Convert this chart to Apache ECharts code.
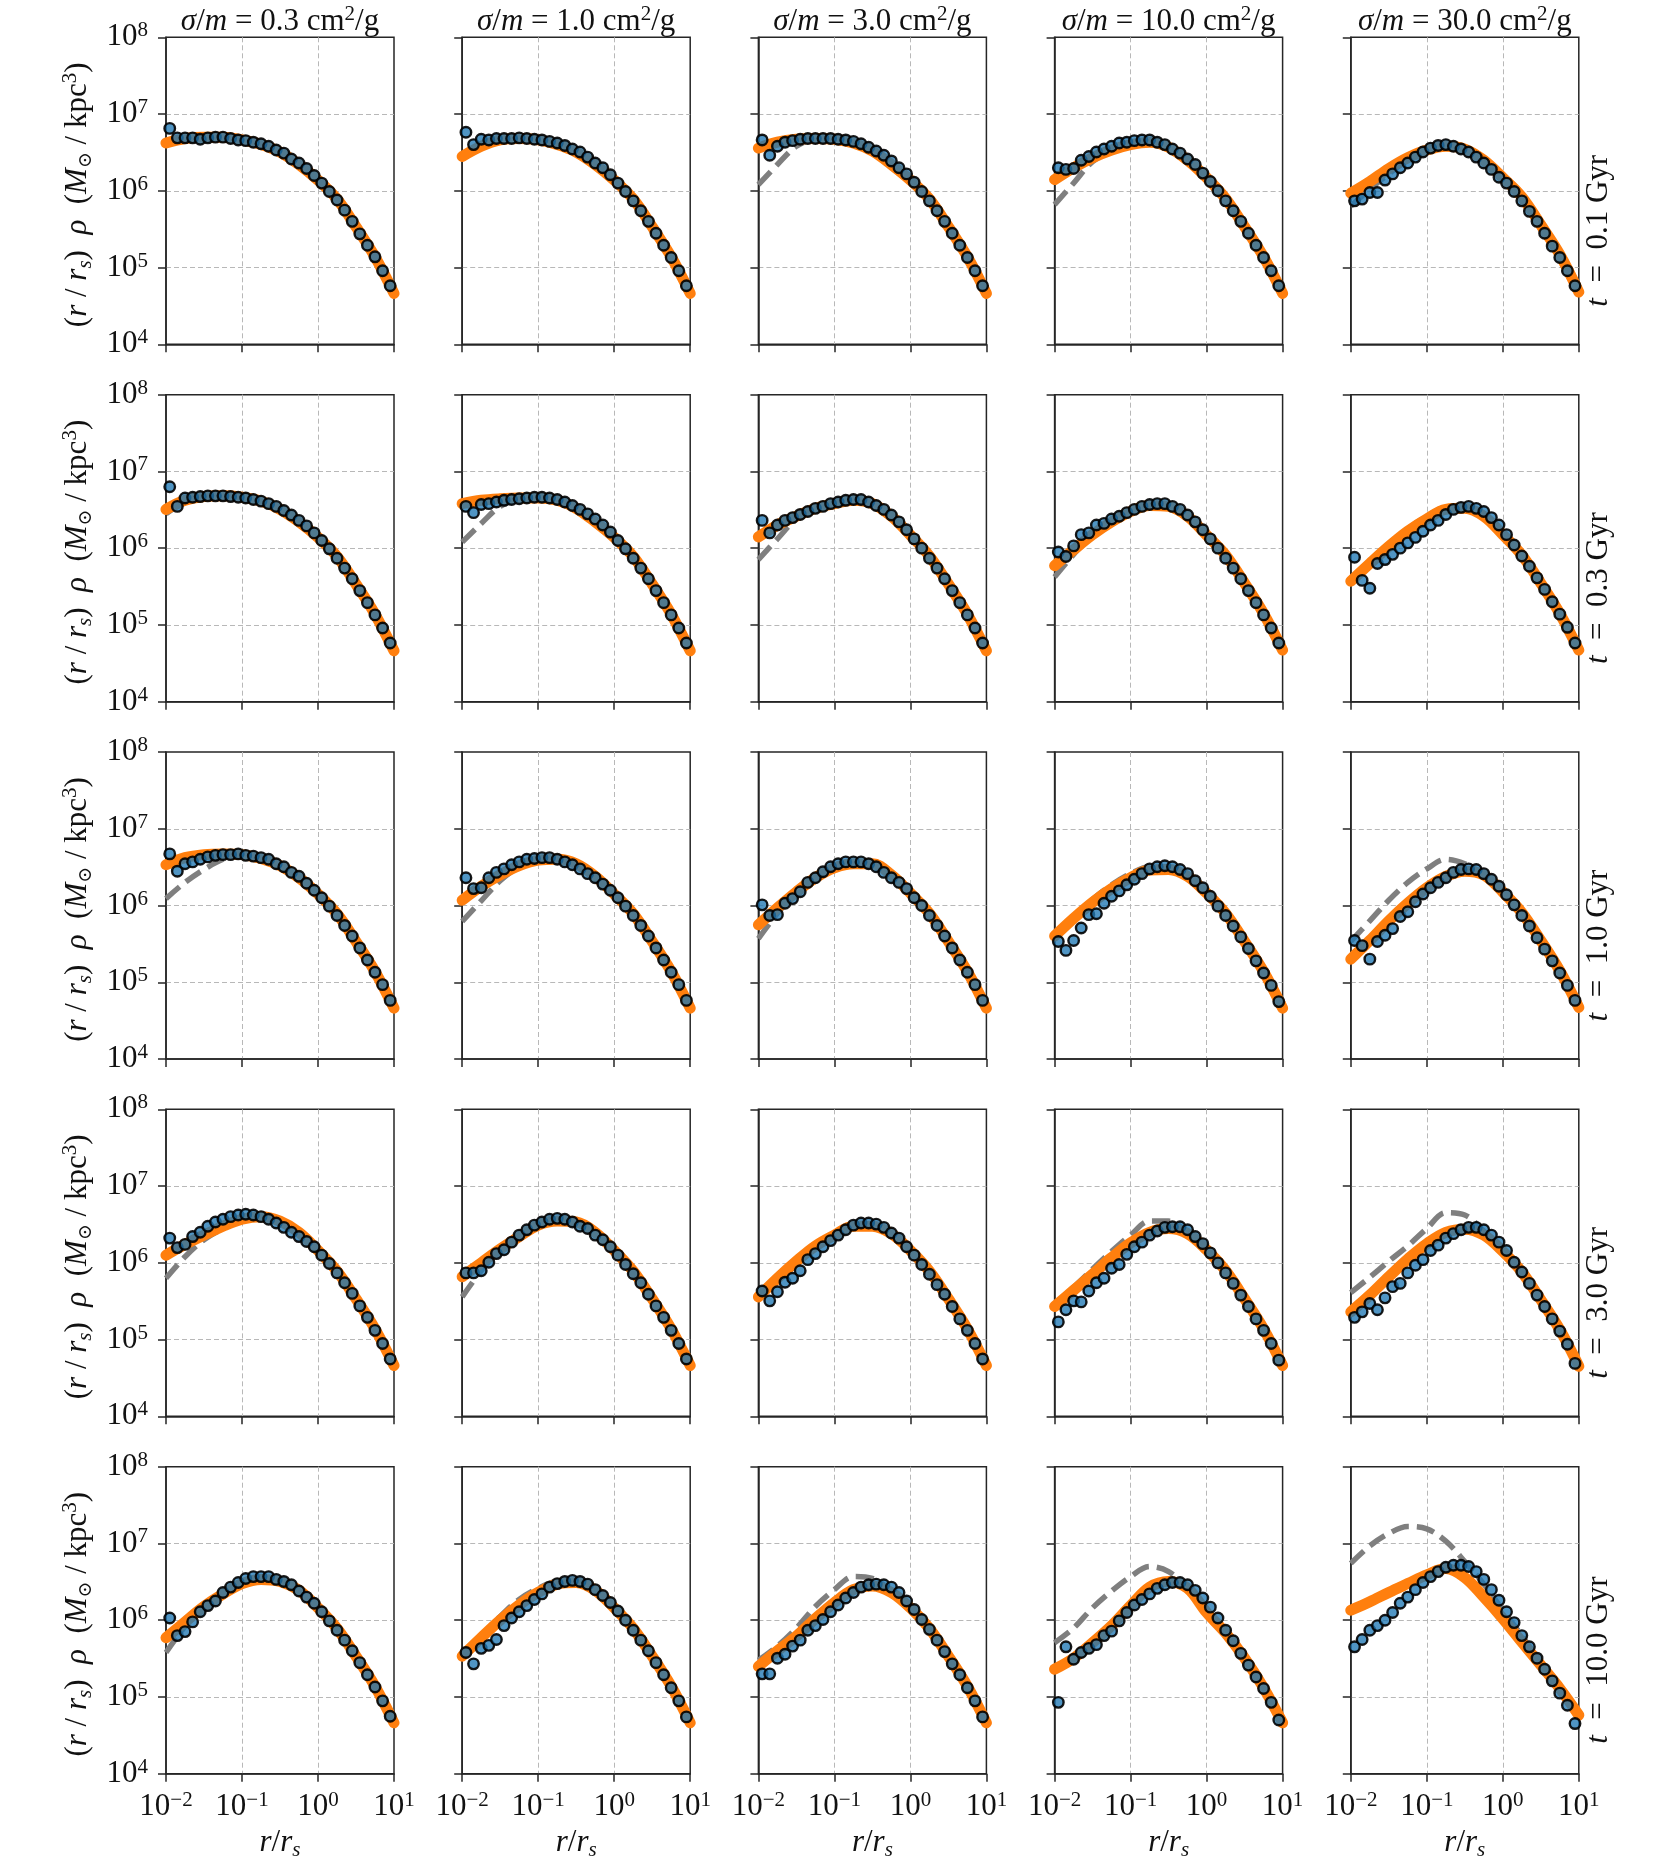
<!DOCTYPE html>
<html><head><meta charset="utf-8">
<script src="https://cdn.jsdelivr.net/npm/echarts@6/dist/echarts.min.js"></script>
<style>html,body{margin:0;padding:0;background:#fff}#c{width:1661px;height:1868px}</style>
</head><body><div id="c"></div>
<script>
// ---------------- data ----------------
const crossSections = ['0.3', '1.0', '3.0', '10.0', '30.0'];   // sigma/m in cm^2/g (columns)
const times = ['0.1', '0.3', '1.0', '3.0', '10.0'];             // t in Gyr (rows)
const xTicks = [0.01, 0.1, 1, 10];
const yTicks = [1e4, 1e5, 1e6, 1e7, 1e8];

// radii of the simulation points (r/r_s)
const rPoints = [0.0112, 0.0141, 0.0178, 0.0224, 0.0282, 0.0355, 0.0447, 0.0562, 0.0708, 0.0891,
  0.112, 0.141, 0.178, 0.224, 0.282, 0.355, 0.447, 0.562, 0.708, 0.891,
  1.12, 1.41, 1.78, 2.24, 2.82, 3.55, 4.47, 5.62, 7.08, 8.91];
// radii of the model curves (r/r_s)
const rCurve = [0.01, 0.0178, 0.0316, 0.0562, 0.1, 0.178, 0.316, 0.562, 1, 1.78, 3.16, 5.62, 10];

// simulation points, (r/r_s) rho, one array per sigma/m column
const pointsT01 = [
  [6.5e6,4.9e6,4.9e6,4.9e6,4.7e6, 4.9e6,5.0e6,5.0e6,4.8e6,4.6e6, 4.5e6,4.3e6,4.1e6,3.8e6,3.4e6, 3.1e6,2.6e6,2.3e6,1.95e6,1.58e6, 1.26e6,9.8e5,7.6e5,5.6e5,4.0e5, 2.75e5,1.95e5,1.38e5,9.1e4,5.8e4],
  [5.8e6,4.0e6,4.7e6,4.6e6,4.8e6, 4.8e6,4.8e6,4.9e6,4.8e6,4.7e6, 4.6e6,4.4e6,4.2e6,3.9e6,3.5e6, 3.2e6,2.75e6,2.3e6,2.0e6,1.62e6, 1.26e6,9.8e5,7.4e5,5.5e5,4.0e5, 2.8e5,1.95e5,1.35e5,9.1e4,5.8e4],
  [4.6e6,2.9e6,3.8e6,4.3e6,4.5e6, 4.7e6,4.8e6,4.8e6,4.8e6,4.8e6, 4.7e6,4.6e6,4.4e6,4.1e6,3.7e6, 3.3e6,2.9e6,2.45e6,2.0e6,1.66e6, 1.29e6,9.8e5,7.4e5,5.5e5,4.0e5, 2.8e5,1.95e5,1.35e5,9.1e4,5.8e4],
  [2.0e6,1.9e6,1.95e6,2.5e6,2.8e6, 3.2e6,3.5e6,3.8e6,4.2e6,4.3e6, 4.5e6,4.6e6,4.6e6,4.3e6,4.0e6, 3.5e6,3.1e6,2.6e6,2.2e6,1.7e6, 1.32e6,1.0e6,7.4e5,5.5e5,4.0e5, 2.8e5,1.95e5,1.35e5,9.1e4,5.8e4],
  [7.4e5,7.8e5,9.5e5,9.5e5,1.38e6, 1.66e6,2.0e6,2.3e6,2.75e6,3.2e6, 3.6e6,3.9e6,4.0e6,3.8e6,3.5e6, 3.2e6,2.75e6,2.3e6,1.9e6,1.5e6, 1.26e6,9.8e5,7.4e5,5.4e5,4.0e5, 2.8e5,1.9e5,1.35e5,9.1e4,5.8e4]
];
const pointsT03 = [
  [6.3e6,3.5e6,4.5e6,4.6e6,4.7e6, 4.8e6,4.8e6,4.8e6,4.7e6,4.6e6, 4.5e6,4.3e6,4.1e6,3.8e6,3.5e6, 3.1e6,2.7e6,2.3e6,1.95e6,1.58e6, 1.26e6,9.8e5,7.4e5,5.5e5,4.0e5, 2.8e5,1.95e5,1.35e5,9.1e4,5.8e4],
  [3.5e6,2.9e6,3.7e6,3.8e6,4.0e6, 4.2e6,4.3e6,4.4e6,4.5e6,4.6e6, 4.6e6,4.5e6,4.3e6,4.0e6,3.6e6, 3.2e6,2.8e6,2.4e6,2.0e6,1.62e6, 1.26e6,9.8e5,7.4e5,5.5e5,4.0e5, 2.8e5,1.95e5,1.35e5,9.1e4,5.8e4],
  [2.3e6,1.58e6,2.0e6,2.3e6,2.5e6, 2.75e6,3.0e6,3.3e6,3.5e6,3.8e6, 4.0e6,4.2e6,4.3e6,4.3e6,4.0e6, 3.6e6,3.2e6,2.7e6,2.2e6,1.74e6, 1.32e6,1.0e6,7.4e5,5.5e5,4.0e5, 2.8e5,1.95e5,1.35e5,9.1e4,5.8e4],
  [8.9e5,7.8e5,1.07e6,1.5e6,1.58e6, 2.0e6,2.1e6,2.4e6,2.6e6,2.9e6, 3.2e6,3.5e6,3.7e6,3.8e6,3.8e6, 3.5e6,3.2e6,2.7e6,2.2e6,1.74e6, 1.32e6,1.0e6,7.4e5,5.5e5,4.0e5, 2.8e5,1.95e5,1.35e5,9.1e4,5.8e4],
  [7.6e5,3.8e5,3.0e5,6.3e5,7.1e5, 8.3e5,1.0e6,1.17e6,1.38e6,1.66e6, 2.0e6,2.3e6,2.75e6,3.2e6,3.4e6, 3.5e6,3.3e6,3.0e6,2.5e6,2.0e6, 1.5e6,1.1e6,7.9e5,5.8e5,4.1e5, 2.9e5,2.0e5,1.38e5,9.3e4,5.8e4]
];
const pointsT1 = [
  [4.7e6,2.8e6,3.5e6,3.7e6,4.0e6, 4.3e6,4.5e6,4.6e6,4.6e6,4.7e6, 4.5e6,4.4e6,4.2e6,4.0e6,3.5e6, 3.2e6,2.7e6,2.4e6,1.95e6,1.58e6, 1.26e6,9.8e5,7.4e5,5.5e5,4.0e5, 2.8e5,1.95e5,1.35e5,9.3e4,5.8e4],
  [2.3e6,1.66e6,1.7e6,2.3e6,2.7e6, 3.0e6,3.4e6,3.7e6,4.0e6,4.1e6, 4.2e6,4.2e6,4.0e6,3.7e6,3.4e6, 3.0e6,2.6e6,2.3e6,1.9e6,1.58e6, 1.26e6,9.8e5,7.4e5,5.5e5,4.0e5, 2.8e5,1.95e5,1.35e5,9.3e4,5.8e4],
  [1.02e6,7.4e5,7.6e5,1.07e6,1.23e6, 1.51e6,2.0e6,2.3e6,2.75e6,3.2e6, 3.5e6,3.7e6,3.7e6,3.7e6,3.5e6, 3.2e6,2.7e6,2.3e6,2.0e6,1.66e6, 1.26e6,1.0e6,7.4e5,5.5e5,4.0e5, 2.8e5,1.95e5,1.35e5,9.3e4,5.8e4],
  [3.4e5,2.6e5,3.5e5,5.1e5,7.6e5, 7.8e5,1.07e6,1.32e6,1.55e6,1.86e6, 2.2e6,2.6e6,3.0e6,3.2e6,3.3e6, 3.2e6,2.95e6,2.6e6,2.1e6,1.7e6, 1.32e6,9.8e5,7.4e5,5.4e5,3.9e5, 2.75e5,1.9e5,1.32e5,9.1e4,5.6e4],
  [3.5e5,3.0e5,2.0e5,3.4e5,4.1e5, 5.0e5,7.2e5,8.3e5,1.12e6,1.41e6, 1.7e6,2.0e6,2.3e6,2.7e6,2.95e6, 3.0e6,2.95e6,2.6e6,2.2e6,1.78e6, 1.38e6,1.02e6,7.4e5,5.4e5,3.8e5, 2.7e5,1.9e5,1.32e5,9.1e4,5.8e4]
];
const pointsT3 = [
  [2.1e6,1.58e6,1.74e6,2.2e6,2.5e6, 3.0e6,3.4e6,3.7e6,4.0e6,4.2e6, 4.3e6,4.2e6,4.0e6,3.7e6,3.3e6, 2.9e6,2.5e6,2.2e6,1.9e6,1.62e6, 1.26e6,9.8e5,7.4e5,5.5e5,4.0e5, 2.75e5,1.95e5,1.32e5,8.9e4,5.6e4],
  [7.4e5,7.4e5,7.9e5,1.02e6,1.32e6, 1.48e6,1.86e6,2.3e6,2.7e6,3.1e6, 3.4e6,3.7e6,3.8e6,3.7e6,3.4e6, 3.0e6,2.8e6,2.3e6,2.0e6,1.62e6, 1.26e6,9.5e5,7.2e5,5.5e5,3.9e5, 2.75e5,1.95e5,1.32e5,8.9e4,5.6e4],
  [4.3e5,3.2e5,4.2e5,5.6e5,6.3e5, 7.9e5,1.1e6,1.32e6,1.62e6,1.95e6, 2.3e6,2.7e6,3.1e6,3.3e6,3.3e6, 3.2e6,2.9e6,2.45e6,2.1e6,1.62e6, 1.26e6,9.5e5,7.1e5,5.2e5,3.9e5, 2.7e5,1.86e5,1.32e5,8.9e4,5.6e4],
  [1.7e5,2.45e5,3.2e5,3.1e5,4.3e5, 5.5e5,6.3e5,8.5e5,9.5e5,1.29e6, 1.62e6,1.86e6,2.3e6,2.6e6,2.9e6, 2.95e6,2.95e6,2.7e6,2.2e6,1.78e6, 1.35e6,1.0e6,7.4e5,5.4e5,3.8e5, 2.7e5,1.86e5,1.32e5,8.9e4,5.4e4],
  [1.95e5,2.3e5,2.95e5,2.45e5,3.5e5, 4.9e5,5.4e5,7.4e5,9.3e5,1.1e6, 1.45e6,1.7e6,2.1e6,2.4e6,2.7e6, 2.9e6,2.9e6,2.7e6,2.3e6,1.86e6, 1.45e6,1.02e6,7.6e5,5.4e5,3.8e5, 2.7e5,1.86e5,1.29e5,8.7e4,4.9e4]
];
const pointsT10 = [
  [1.07e6,6.3e5,7.1e5,9.5e5,1.29e6, 1.55e6,1.78e6,2.3e6,2.7e6,3.1e6, 3.5e6,3.7e6,3.7e6,3.7e6,3.4e6, 3.2e6,2.9e6,2.4e6,2.0e6,1.66e6, 1.29e6,9.8e5,7.4e5,5.5e5,4.0e5, 2.8e5,1.95e5,1.35e5,8.9e4,5.6e4],
  [3.8e5,2.7e5,4.3e5,4.7e5,5.6e5, 8.5e5,1.07e6,1.29e6,1.55e6,1.86e6, 2.2e6,2.7e6,3.0e6,3.2e6,3.3e6, 3.2e6,2.95e6,2.5e6,2.1e6,1.7e6, 1.32e6,1.0e6,7.4e5,5.5e5,4.0e5, 2.8e5,1.95e5,1.32e5,8.9e4,5.5e4],
  [2.0e5,2.0e5,3.2e5,3.6e5,4.6e5, 5.5e5,7.4e5,8.5e5,1.02e6,1.29e6, 1.58e6,1.95e6,2.3e6,2.7e6,2.9e6, 2.95e6,2.9e6,2.7e6,2.3e6,1.78e6, 1.38e6,1.02e6,7.6e5,5.5e5,3.9e5, 2.7e5,1.95e5,1.32e5,8.9e4,5.5e4],
  [8.5e4,4.5e5,3.1e5,3.8e5,4.3e5, 4.8e5,6.3e5,7.2e5,9.8e5,1.26e6, 1.58e6,1.86e6,2.2e6,2.6e6,2.9e6, 3.1e6,3.1e6,2.9e6,2.45e6,1.95e6, 1.48e6,1.07e6,7.4e5,5.4e5,3.7e5, 2.6e5,1.82e5,1.29e5,8.5e4,5.0e4],
  [4.5e5,5.6e5,7.4e5,8.5e5,1.0e6, 1.26e6,1.66e6,2.0e6,2.5e6,3.1e6, 3.7e6,4.3e6,4.9e6,5.2e6,5.2e6, 5.0e6,4.3e6,3.4e6,2.5e6,1.82e6, 1.29e6,9.3e5,6.3e5,4.5e5,3.2e5, 2.3e5,1.62e5,1.12e5,7.8e4,4.5e4]
];

// orange (thick solid) model curve
const orangeT01 = [
  [4.2e6,4.8e6,5.0e6,5.0e6,4.6e6,4.0e6,3.2e6,2.2e6,1.38e6,7.8e5,3.4e5,1.38e5,4.6e4],
  [2.8e6,3.8e6,4.6e6,4.8e6,4.6e6,4.0e6,3.2e6,2.2e6,1.38e6,7.8e5,3.4e5,1.38e5,4.6e4],
  [3.6e6,4.3e6,4.7e6,4.8e6,4.7e6,4.2e6,3.3e6,2.2e6,1.38e6,7.8e5,3.4e5,1.38e5,4.6e4],
  [1.4e6,2.0e6,2.7e6,3.4e6,4.0e6,4.3e6,3.7e6,2.5e6,1.48e6,7.9e5,3.4e5,1.38e5,4.6e4],
  [9.3e5,1.32e6,1.95e6,2.7e6,3.4e6,3.8e6,3.5e6,2.5e6,1.48e6,8.3e5,3.6e5,1.48e5,4.8e4]
];
const orangeT03 = [
  [3.2e6,4.2e6,4.7e6,4.8e6,4.6e6,4.1e6,3.2e6,2.2e6,1.38e6,7.8e5,3.4e5,1.38e5,4.6e4],
  [3.8e6,4.2e6,4.4e6,4.5e6,4.5e6,4.2e6,3.3e6,2.2e6,1.38e6,7.8e5,3.4e5,1.38e5,4.6e4],
  [1.4e6,2.0e6,2.6e6,3.3e6,3.8e6,4.2e6,3.8e6,2.6e6,1.48e6,7.9e5,3.4e5,1.38e5,4.6e4],
  [5.9e5,9.5e5,1.5e6,2.2e6,3.0e6,3.6e6,3.5e6,2.6e6,1.48e6,8.1e5,3.5e5,1.41e5,4.7e4],
  [3.7e5,6.3e5,1.05e6,1.66e6,2.4e6,3.2e6,3.3e6,2.6e6,1.5e6,8.1e5,3.5e5,1.41e5,4.7e4]
];
const orangeT1 = [
  [3.4e6,4.2e6,4.6e6,4.7e6,4.6e6,4.1e6,3.3e6,2.3e6,1.41e6,7.8e5,3.4e5,1.38e5,4.6e4],
  [1.17e6,1.78e6,2.5e6,3.3e6,3.9e6,4.0e6,3.5e6,2.4e6,1.41e6,7.8e5,3.4e5,1.38e5,4.6e4],
  [5.6e5,9.3e5,1.5e6,2.3e6,3.1e6,3.5e6,3.5e6,2.5e6,1.45e6,7.9e5,3.4e5,1.38e5,4.6e4],
  [4.0e5,6.8e5,1.1e6,1.66e6,2.3e6,2.9e6,2.95e6,2.4e6,1.45e6,7.9e5,3.4e5,1.38e5,4.6e4],
  [2.0e5,3.5e5,6.3e5,1.07e6,1.7e6,2.4e6,2.8e6,2.5e6,1.5e6,8.1e5,3.5e5,1.41e5,4.7e4]
];
const orangeT3 = [
  [1.26e6,1.74e6,2.3e6,3.0e6,3.7e6,4.0e6,3.5e6,2.5e6,1.45e6,7.8e5,3.4e5,1.38e5,4.6e4],
  [6.6e5,1.0e6,1.51e6,2.2e6,3.1e6,3.5e6,3.4e6,2.5e6,1.45e6,7.8e5,3.4e5,1.38e5,4.6e4],
  [3.6e5,6.3e5,1.05e6,1.66e6,2.3e6,3.0e6,3.0e6,2.4e6,1.45e6,7.8e5,3.4e5,1.38e5,4.6e4],
  [2.7e5,4.4e5,7.1e5,1.17e6,1.82e6,2.5e6,2.8e6,2.4e6,1.48e6,7.9e5,3.4e5,1.38e5,4.6e4],
  [2.3e5,3.8e5,6.6e5,1.12e6,1.78e6,2.5e6,2.75e6,2.3e6,1.41e6,7.6e5,3.3e5,1.35e5,4.5e4]
];
const orangeT10 = [
  [5.9e5,9.5e5,1.51e6,2.2e6,3.0e6,3.4e6,3.2e6,2.45e6,1.45e6,7.8e5,3.4e5,1.38e5,4.6e4],
  [3.4e5,5.9e5,1.0e6,1.58e6,2.3e6,2.95e6,3.1e6,2.45e6,1.45e6,7.8e5,3.4e5,1.38e5,4.6e4],
  [2.5e5,4.0e5,6.2e5,1.05e6,1.7e6,2.5e6,2.8e6,2.3e6,1.45e6,7.8e5,3.4e5,1.38e5,4.6e4],
  [2.3e5,3.2e5,5.1e5,8.5e5,1.55e6,2.7e6,3.2e6,2.6e6,1.26e6,6.8e5,3.2e5,1.32e5,4.6e4],
  [1.35e6,1.74e6,2.3e6,3.0e6,3.9e6,4.7e6,3.6e6,2.0e6,1.05e6,5.2e5,2.6e5,1.29e5,5.8e4]
];

// grey dashed model curve
const dashedT01 = [
  [4.0e6,4.7e6,5.0e6,5.0e6,4.6e6,4.0e6,3.2e6,2.2e6,1.38e6,7.8e5,3.4e5,1.38e5,4.6e4],
  [2.6e6,3.7e6,4.5e6,4.8e6,4.6e6,4.0e6,3.2e6,2.2e6,1.38e6,7.8e5,3.4e5,1.38e5,4.6e4],
  [1.2e6,2.2e6,3.8e6,4.7e6,4.7e6,4.2e6,3.3e6,2.2e6,1.38e6,7.8e5,3.4e5,1.38e5,4.6e4],
  [6.6e5,1.26e6,2.4e6,3.3e6,4.0e6,4.3e6,3.7e6,2.5e6,1.48e6,7.9e5,3.4e5,1.38e5,4.6e4],
  [6.3e5,1.05e6,1.66e6,2.5e6,3.3e6,3.8e6,3.5e6,2.5e6,1.48e6,8.3e5,3.6e5,1.48e5,4.8e4]
];
const dashedT03 = [
  [2.8e6,4.0e6,4.7e6,4.8e6,4.6e6,4.1e6,3.2e6,2.2e6,1.38e6,7.8e5,3.4e5,1.38e5,4.6e4],
  [1.2e6,2.1e6,3.5e6,4.3e6,4.5e6,4.2e6,3.3e6,2.2e6,1.38e6,7.8e5,3.4e5,1.38e5,4.6e4],
  [7.1e5,1.32e6,2.4e6,3.3e6,3.8e6,4.2e6,3.8e6,2.6e6,1.48e6,7.9e5,3.4e5,1.38e5,4.6e4],
  [4.2e5,8.3e5,1.5e6,2.2e6,3.0e6,3.6e6,3.5e6,2.6e6,1.48e6,8.1e5,3.5e5,1.41e5,4.7e4],
  [3.5e5,6.3e5,1.1e6,1.78e6,2.6e6,3.4e6,3.3e6,2.6e6,1.5e6,8.1e5,3.5e5,1.41e5,4.7e4]
];
const dashedT1 = [
  [1.23e6,2.0e6,2.95e6,4.0e6,4.6e6,4.1e6,3.3e6,2.3e6,1.41e6,7.8e5,3.4e5,1.38e5,4.6e4],
  [6.2e5,1.15e6,2.1e6,3.2e6,3.9e6,4.0e6,3.5e6,2.4e6,1.41e6,7.8e5,3.4e5,1.38e5,4.6e4],
  [3.7e5,7.9e5,1.48e6,2.3e6,3.1e6,3.5e6,3.5e6,2.5e6,1.45e6,7.9e5,3.4e5,1.38e5,4.6e4],
  [3.8e5,7.1e5,1.2e6,1.86e6,2.6e6,3.2e6,3.2e6,2.4e6,1.45e6,7.9e5,3.4e5,1.38e5,4.6e4],
  [3.4e5,6.3e5,1.17e6,2.0e6,3.0e6,4.0e6,3.5e6,2.5e6,1.5e6,8.1e5,3.5e5,1.41e5,4.7e4]
];
const dashedT3 = [
  [6.3e5,1.2e6,2.0e6,2.8e6,3.7e6,4.0e6,3.5e6,2.5e6,1.45e6,7.8e5,3.4e5,1.38e5,4.6e4],
  [3.6e5,7.9e5,1.48e6,2.2e6,3.1e6,3.5e6,3.4e6,2.5e6,1.45e6,7.8e5,3.4e5,1.38e5,4.6e4],
  [3.5e5,6.3e5,1.05e6,1.66e6,2.3e6,3.0e6,3.0e6,2.4e6,1.45e6,7.8e5,3.4e5,1.38e5,4.6e4],
  [2.8e5,4.8e5,8.3e5,1.41e6,2.3e6,3.5e6,3.5e6,2.5e6,1.48e6,7.9e5,3.4e5,1.38e5,4.6e4],
  [4.1e5,6.5e5,1.05e6,1.66e6,2.8e6,4.5e6,4.2e6,2.6e6,1.45e6,7.8e5,3.4e5,1.38e5,4.6e4]
];
const dashedT10 = [
  [3.8e5,8.3e5,1.51e6,2.2e6,3.0e6,3.4e6,3.2e6,2.45e6,1.45e6,7.8e5,3.4e5,1.38e5,4.6e4],
  [3.4e5,6.3e5,1.12e6,1.86e6,2.6e6,3.2e6,3.2e6,2.45e6,1.45e6,7.8e5,3.4e5,1.38e5,4.6e4],
  [3.0e5,4.6e5,7.9e5,1.51e6,2.5e6,3.7e6,3.5e6,2.4e6,1.45e6,7.8e5,3.4e5,1.38e5,4.6e4],
  [5.1e5,7.9e5,1.45e6,2.4e6,3.7e6,5.0e6,4.3e6,2.6e6,1.32e6,6.8e5,3.2e5,1.32e5,4.6e4],
  [5.5e6,9.3e6,1.35e7,1.66e7,1.55e7,1.07e7,5.8e6,2.95e6,1.35e6,6.3e5,2.8e5,1.26e5,5.0e4]
];

const pointsByRow = [pointsT01, pointsT03, pointsT1, pointsT3, pointsT10];
const orangeByRow = [orangeT01, orangeT03, orangeT1, orangeT3, orangeT10];
const dashedByRow = [dashedT01, dashedT03, dashedT1, dashedT3, dashedT10];

// ---------------- styling / layout ----------------
const FF = "'Liberation Serif','DejaVu Serif',serif";
const INK = '#111111';
const AX = '#262626';
const L0 = 166, DX = 296.2, W = 228, T0 = 37.3, DY = 357.35, H = 307;

const tickRich = {
  b: { fontFamily: FF, fontSize: 31, color: INK, lineHeight: 34, verticalAlign: 'middle' },
  e: { fontFamily: FF, fontSize: 21, color: INK, lineHeight: 24, verticalAlign: 'top' }
};
function tickFmt(v) {
  const e = Math.round(Math.log10(v));
  return '{b|10}{e|' + (e < 0 ? '\u2212' + (-e) : String(e)) + '}';
}

const grids = [], xAxes = [], yAxes = [], series = [];
for (let r = 0; r < 5; r++) {
  for (let c = 0; c < 5; c++) {
    const i = r * 5 + c;
    grids.push({
      left: L0 + c * DX, top: T0 + r * DY, width: W, height: H,
      containLabel: false, outerBoundsMode: 'none',
      show: true, borderColor: AX, borderWidth: 1.5, backgroundColor: 'transparent'
    });
    const common = {
      type: 'log', logBase: 10, gridIndex: i,
      axisLine: { show: true, lineStyle: { color: AX, width: 1.5 } },
      axisTick: { show: true, inside: false, length: 8, lineStyle: { color: AX, width: 1.5 } },
      minorTick: { show: false },
      splitLine: { show: true, showMinLine: false, showMaxLine: false,
        lineStyle: { color: '#b8b8b8', width: 1, type: [5, 3] } },
      minorSplitLine: { show: false }
    };
    xAxes.push(Object.assign({}, common, {
      min: xTicks[0], max: xTicks[xTicks.length - 1], position: 'bottom',
      axisLabel: { show: r === 4, margin: 16, formatter: tickFmt, rich: tickRich,
        showMinLabel: true, showMaxLabel: true, hideOverlap: false }
    }));
    yAxes.push(Object.assign({}, common, {
      min: yTicks[0], max: yTicks[yTicks.length - 1], position: 'left',
      axisLabel: { show: c === 0, margin: 18, formatter: tickFmt, rich: tickRich,
        showMinLabel: true, showMaxLabel: true, hideOverlap: false }
    }));
    const dash = dashedByRow[r][c], org = orangeByRow[r][c], pts = pointsByRow[r][c];
    series.push({
      type: 'line', xAxisIndex: i, yAxisIndex: i, z: 2, smooth: 0.35,
      showSymbol: false, symbol: 'none', silent: true,
      lineStyle: { color: '#7f7f7f', width: 5.5, type: [18, 8], cap: 'butt' },
      data: rCurve.map((x, k) => [x, dash[k]])
    });
    series.push({
      type: 'line', xAxisIndex: i, yAxisIndex: i, z: 3, smooth: 0.35,
      showSymbol: false, symbol: 'none', silent: true,
      lineStyle: { color: '#ff7f0e', width: 11, cap: 'round', join: 'round' },
      data: rCurve.map((x, k) => [x, org[k]])
    });
    series.push({
      type: 'scatter', xAxisIndex: i, yAxisIndex: i, z: 4, silent: true,
      symbol: 'circle', symbolSize: 10.5,
      itemStyle: { color: 'rgba(31,119,180,0.78)', borderColor: 'rgba(0,0,0,0.9)', borderWidth: 2.4, opacity: 1 },
      data: rPoints.map((x, k) => [x, pts[k]])
    });
  }
}

// ---------------- texts ----------------
const rich = {
  n: { fontFamily: FF, fontSize: 31, fill: INK, lineHeight: 36, verticalAlign: 'middle' },
  i: { fontFamily: FF, fontSize: 31, fontStyle: 'italic', fill: INK, lineHeight: 36, verticalAlign: 'middle' },
  sup: { fontFamily: FF, fontSize: 21, fill: INK, lineHeight: 22, verticalAlign: 'top' },
  sub: { fontFamily: FF, fontSize: 21, fontStyle: 'italic', fill: INK, lineHeight: 16, verticalAlign: 'bottom' },
  subr: { fontFamily: FF, fontSize: 19, fill: INK, lineHeight: 16, verticalAlign: 'bottom' }
};
const graphics = [];
for (let c = 0; c < 5; c++) {
  const cx = L0 + c * DX + W / 2;
  graphics.push({ type: 'text', x: cx, y: 22, silent: true,
    style: { text: '{i|\u03c3}{n|/}{i|m}{n| = ' + crossSections[c] + ' cm}{sup|2}{n|/g}',
      rich: rich, align: 'center', verticalAlign: 'middle' } });
  graphics.push({ type: 'text', x: cx, y: 1843, silent: true,
    style: { text: '{i|r}{n|/}{i|r}{sub|s}', rich: rich, align: 'center', verticalAlign: 'middle' } });
}
for (let r = 0; r < 5; r++) {
  const cy = T0 + r * DY + H / 2;
  graphics.push({ type: 'text', x: 78, y: cy + 4, rotation: Math.PI / 2, silent: true,
    style: { text: '{n|(}{i|r}{n| / }{i|r}{sub|s}{n|)  }{i|\u03c1}{n|  (}{i|M}{subr|\u2299}{n| / kpc}{sup|3}{n|)}',
      rich: rich, align: 'center', verticalAlign: 'middle' } });
  graphics.push({ type: 'text', x: 1599, y: cy + 40, rotation: Math.PI / 2, silent: true,
    style: { text: '{i|t}{n|  =  ' + times[r] + ' Gyr}', rich: rich, align: 'center', verticalAlign: 'middle' } });
}

const chart = echarts.init(document.getElementById('c'), null, { renderer: 'canvas', width: 1661, height: 1868 });
chart.setOption({
  backgroundColor: '#ffffff',
  animation: false,
  grid: grids, xAxis: xAxes, yAxis: yAxes, series: series,
  graphic: { elements: graphics }
});
</script></body></html>
